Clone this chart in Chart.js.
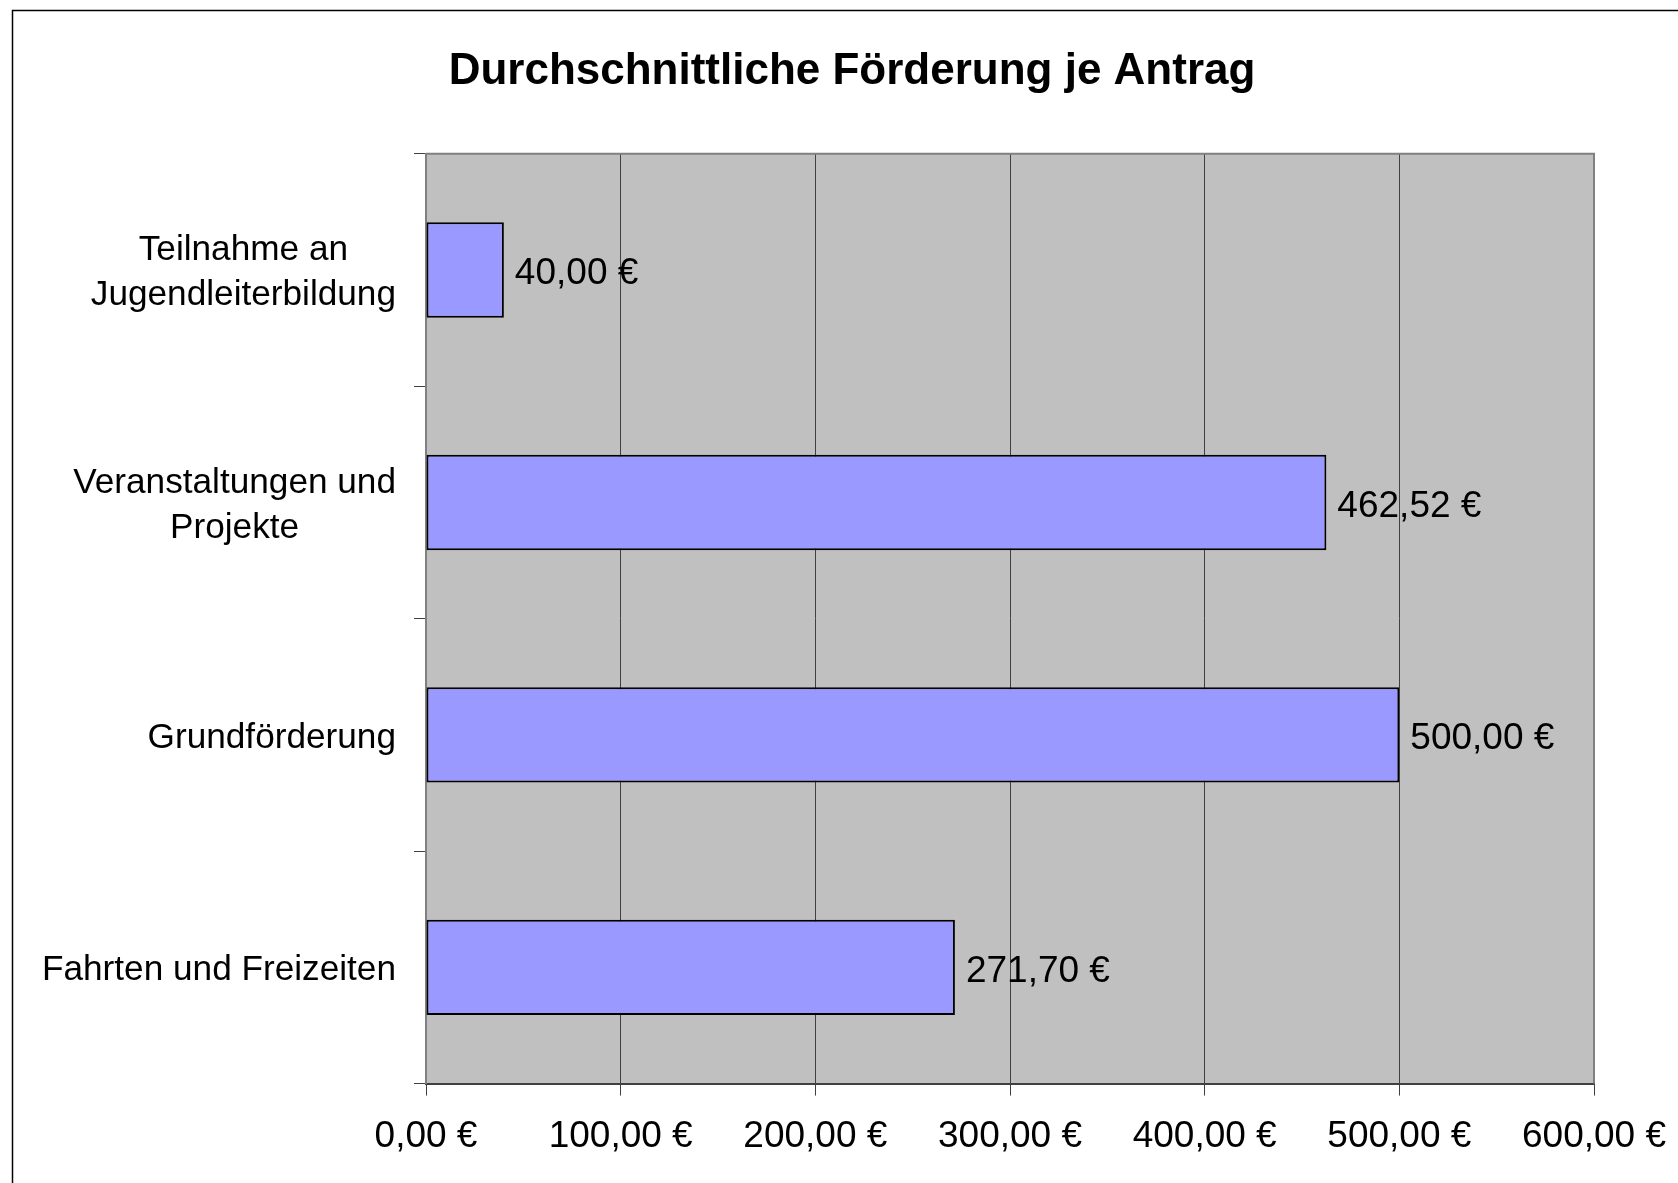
<!DOCTYPE html>
<html>
<head>
<meta charset="utf-8">
<script src="https://cdn.jsdelivr.net/npm/chart.js@4.4.1/dist/chart.umd.min.js"></script>
<style>
  html, body { margin: 0; padding: 0; background: #fff; overflow: hidden; }
  canvas { display: block; }
</style>
</head>
<body>
<canvas id="myChart" width="1678" height="1183"></canvas>
<script>
const categories = [
    ['Teilnahme an', 'Jugendleiterbildung'],
    ['Veranstaltungen und', 'Projekte'],
    ['Grundförderung'],
    ['Fahrten und Freizeiten']
];
const values = [40.00, 462.52, 500.00, 271.70];
const xTicks = [0, 100, 200, 300, 400, 500, 600];

const euro = (v) => v.toFixed(2).replace('.', ',') + ' €';
const FONT = '"Liberation Sans", Arial, sans-serif';

// Plothintergrund, Rahmen, Kategorienbeschriftung und Werte
const decor = {
    id: 'decor',
    beforeDraw(chart) {
        const { ctx, chartArea: a } = chart;
        ctx.save();
        ctx.fillStyle = '#c0c0c0';
        ctx.fillRect(a.left, a.top, a.right - a.left, a.bottom - a.top);
        // äußerer Rahmen
        ctx.strokeStyle = '#000';
        ctx.lineWidth = 1.5;
        ctx.beginPath();
        ctx.moveTo(12.5, chart.height);
        ctx.lineTo(12.5, 10.5);
        ctx.lineTo(chart.width, 10.5);
        ctx.stroke();
        ctx.restore();
    },
    afterDraw(chart) {
        const { ctx, chartArea: a } = chart;
        const yScale = chart.scales.y;
        ctx.save();
        // obere und rechte Kante
        ctx.strokeStyle = '#808080';
        ctx.lineWidth = 2;
        ctx.beginPath();
        ctx.moveTo(a.left, a.top);
        ctx.lineTo(a.right, a.top);
        ctx.lineTo(a.right, a.bottom);
        ctx.stroke();

        ctx.font = '35.2px ' + FONT;
        ctx.fillStyle = '#000';
        ctx.textBaseline = 'middle';
        ctx.textAlign = 'center';
        const lineH = 45;
        categories.forEach((lines, i) => {
            const y = yScale.getPixelForValue(i) + 3;
            const maxW = Math.max(...lines.map(l => ctx.measureText(l).width));
            const cx = 396 - maxW / 2;
            lines.forEach((l, j) => {
                ctx.fillText(l, cx, y + (j - (lines.length - 1) / 2) * lineH);
            });
        });

        ctx.font = '37px ' + FONT;
        ctx.textAlign = 'left';
        const meta = chart.getDatasetMeta(0);
        meta.data.forEach((bar, i) => {
            ctx.fillText(euro(values[i]), bar.x + 11, bar.y + 4);
        });
        ctx.restore();
    }
};

new Chart(document.getElementById('myChart'), {
    type: 'bar',
    data: {
        labels: categories,
        datasets: [{
            data: values,
            backgroundColor: '#9999ff',
            borderColor: '#000',
            borderWidth: 2,
            borderSkipped: false,
            barPercentage: 0.41,
            categoryPercentage: 1.0
        }]
    },
    options: {
        indexAxis: 'y',
        responsive: false,
        animation: false,
        layout: {
            padding: { left: 110, right: 84, top: 0, bottom: 5 }
        },
        plugins: {
            legend: { display: false },
            tooltip: { enabled: false },
            title: {
                display: true,
                text: 'Durchschnittliche Förderung je Antrag',
                color: '#000',
                font: { family: FONT, size: 44, weight: 'bold', lineHeight: 1.2 },
                padding: { top: 45, bottom: 56 }
            }
        },
        scales: {
            x: {
                min: 0,
                max: 600,
                afterBuildTicks: (scale) => {
                    scale.ticks = xTicks.map(v => ({ value: v }));
                },
                afterFit: (scale) => {
                    scale.paddingLeft = 0;
                    scale.paddingRight = 0;
                },
                grid: {
                    color: '#404040',
                    lineWidth: 1,
                    tickLength: 12
                },
                border: { color: '#404040', width: 2 },
                ticks: {
                    color: '#000',
                    font: { family: FONT, size: 37 },
                    padding: 19,
                    maxRotation: 0,
                    callback: (v) => euro(v)
                }
            },
            y: {
                afterFit: (scale) => { scale.width = 316; },
                grid: {
                    drawOnChartArea: false,
                    color: '#404040',
                    tickLength: 12
                },
                border: { color: '#808080', width: 2 },
                ticks: { display: false }
            }
        }
    },
    plugins: [decor]
});
</script>
</body>
</html>
